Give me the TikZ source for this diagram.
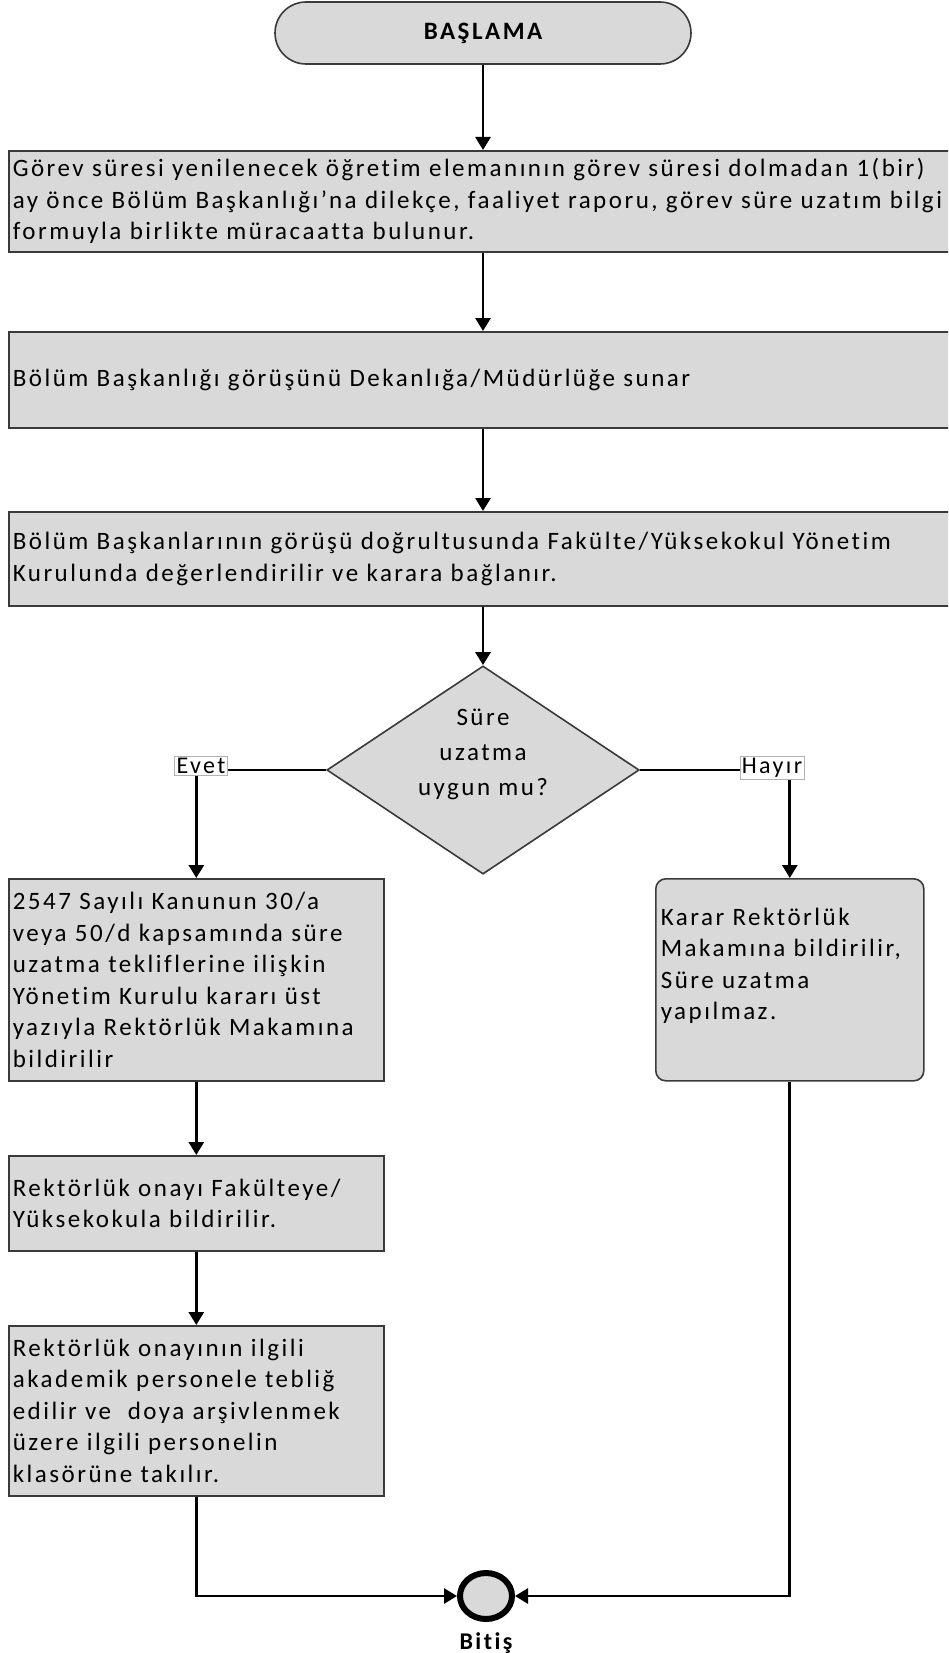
\documentclass[tikz,border=0pt]{standalone}
\usepackage{fontspec}
\setmainfont{Carlito}[LetterSpace=10, Ligatures=NoCommon]
\usetikzlibrary{shapes.geometric, arrows.meta, positioning}
\definecolor{kutugri}{HTML}{D9D9D9}
\definecolor{cizgi}{HTML}{3A3A3A}

\begin{document}
\begin{tikzpicture}[
		x=1pt, y=-1pt,
		% ortak stiller
		block/.style = {draw=cizgi, fill=kutugri, line width=1.6pt, rectangle, anchor=north west, align=left, inner xsep=4pt, inner ysep=0pt, font=\fontsize{25}{31.5}\selectfont},
		term/.style = {draw=cizgi, fill=kutugri, line width=1.6pt, rectangle, rounded corners=31pt, minimum width=416pt, minimum height=62pt, font=\bfseries\fontsize{25}{30}\selectfont},
		decision/.style = {draw=cizgi, fill=kutugri, line width=1.6pt, diamond, aspect=1.5, inner sep=0pt, minimum width=301pt, minimum height=196pt, align=center, font=\fontsize{25}{35}\selectfont},
		lbl/.style = {draw=gray!60, fill=white, line width=0.6pt, inner sep=2pt, font=\fontsize{24}{28}\selectfont},
		endcircle/.style = {ellipse, draw=black, line width=6pt, fill=kutugri, minimum width=52pt, minimum height=46pt, inner sep=0pt},
		arr/.style = {-{Triangle[width=15pt,length=13pt]}, line width=2.8pt},
		conn/.style = {line width=2.8pt}
		]
		
		\path[use as bounding box] (0,0) rectangle (948,1653);
		\clip (0,0) rectangle (948,1653);
		
		% --- ANA AKIS ---
		\node [term] (basla) at (483,33) {BAŞLAMA};
		
		\node [block, minimum width=962pt, minimum height=101pt, text width=954pt] (dilekce) at (8,150)
		{Görev süresi yenilenecek öğretim elemanının görev süresi dolmadan 1(bir)\\
		ay önce Bölüm Başkanlığı’na dilekçe, faaliyet raporu, görev süre uzatım bilgi\\
		formuyla birlikte müracaatta bulunur.};
		
		\node [block, minimum width=962pt, minimum height=96pt, text width=954pt] (bolum) at (8,331)
		{Bölüm Başkanlığı görüşünü Dekanlığa/Müdürlüğe sunar};
		
		\node [block, minimum width=962pt, minimum height=94pt, text width=954pt] (kurul) at (8,511)
		{Bölüm Başkanlarının görüşü doğrultusunda Fakülte/Yüksekokul Yönetim\\
		Kurulunda değerlendirilir ve karara bağlanır.};
		
		% Karar
		\node [decision] (karar) at (483,770) {Süre\\uzatma\\uygun mu?\\\mbox{}};
		\node [lbl] (evet) at (201,766) {Evet};
		\node [lbl] (hayir) at (772,768) {Hayır};
		
		% --- EVET KOLU ---
		\node [block, minimum width=375pt, minimum height=202pt, text width=367pt] (kanun) at (8,878)
		{2547 Sayılı Kanunun 30/a\\
		veya 50/d kapsamında süre\\
		uzatma tekliflerine ilişkin\\
		Yönetim Kurulu kararı üst\\
		yazıyla Rektörlük Makamına\\
		bildirilir};
		
		\node [block, minimum width=375pt, minimum height=95pt, text width=367pt] (onay) at (8,1155)
		{Rektörlük onayı Fakülteye/\\
		Yüksekokula bildirilir.};
		
		\node [block, minimum width=375pt, minimum height=170pt, text width=367pt] (teblig) at (8,1325)
		{Rektörlük onayının ilgili\\
		akademik personele tebliğ\\
		edilir ve \ doya arşivlenmek\\
		üzere ilgili personelin\\
		klasörüne takılır.};
		
		% --- HAYIR KOLU ---
		\node [block, rounded corners=10pt, minimum width=268pt, minimum height=202pt, text width=258pt] (red) at (655,878)
		{Karar Rektörlük\\
		Makamına bildirilir,\\
		Süre uzatma\\
		yapılmaz.\\
		\mbox{}};
		
		% Bitis
		\node [endcircle] (bitis) at (486,1596) {};
		\node [below=10pt of bitis, inner sep=0pt, font=\bfseries\fontsize{24}{28}\selectfont] (bitisyazi) {Bitiş};
		
		% --- BAGLANTILAR ---
		\draw [arr] (basla.south) -- (basla.south |- dilekce.north);
		\draw [arr] (basla.south |- dilekce.south) -- (basla.south |- bolum.north);
		\draw [arr] (basla.south |- bolum.south) -- (basla.south |- kurul.north);
		\draw [arr] (karar.north |- kurul.south) -- (karar.north);
		
		\draw [conn] (karar.west) -- (karar.west -| evet.east);
		\draw [arr] (evet.south -| kanun.north) -- (kanun.north);
		\draw [conn] (karar.east) -- (karar.east -| hayir.west);
		\draw [arr] (hayir.south -| red.north) -- (red.north);
		
		\draw [arr] (kanun.south) -- (onay.north);
		\draw [arr] (onay.south) -- (teblig.north);
		\draw [arr] (teblig.south) |- (bitis.west);
		\draw [arr] (red.south) |- (bitis.east);
		
	\end{tikzpicture}
\end{document}
